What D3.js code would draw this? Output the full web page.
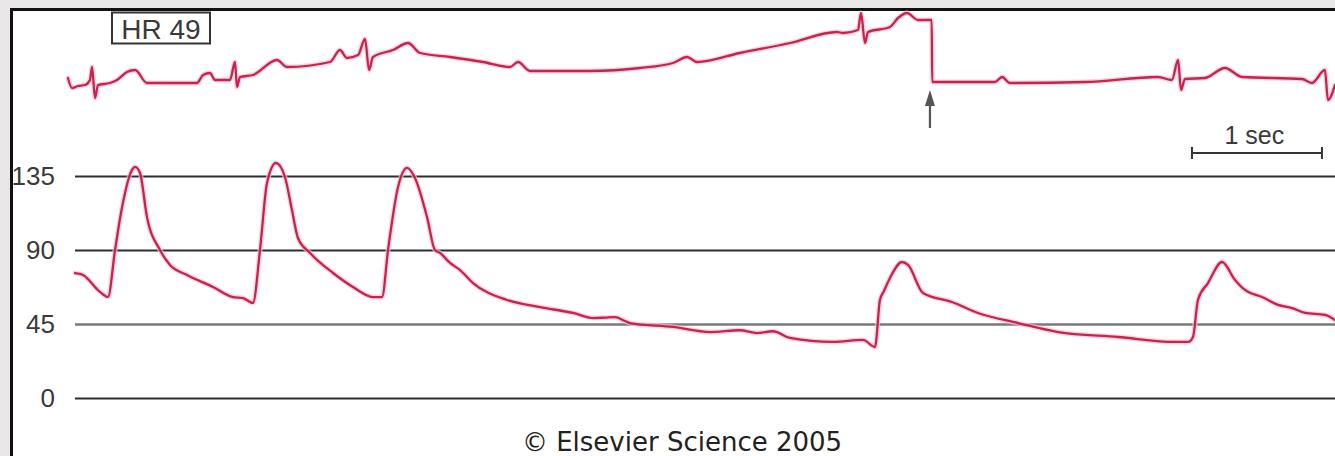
<!DOCTYPE html>
<html>
<head>
<meta charset="UTF-8">
<title>HR 49 - ECG and arterial pressure</title>
<script src="https://d3js.org/d3.v7.min.js"></script>
<style>
  body { margin: 0; background: #e9e7e7; }
  .trace { fill: none; stroke-linejoin: round; stroke-linecap: round; }
  .halo { stroke: #f6c3d1; stroke-width: 5; opacity: 0.7; }
  .core { stroke: #c9224d; stroke-width: 2.3; }
  .lbl { font-family: "Liberation Sans", Arial, sans-serif; fill: #3a3a3a; }
</style>
</head>
<body>
<svg id="chart" width="1335" height="456"></svg>
<script>
// time in seconds, pressure in mmHg
const pTime = [0, 0.062, 0.192, 0.254, 0.308, 0.362, 0.438, 0.462, 0.5, 0.554, 0.654, 0.731, 0.862,
  1.062, 1.215, 1.292, 1.369, 1.423, 1.477, 1.546, 1.615, 1.669, 1.715, 1.808, 1.985,
  2.138, 2.292, 2.362, 2.408, 2.485, 2.554, 2.615, 2.708, 2.769, 2.808, 2.885, 2.962,
  3.062, 3.323, 3.577, 3.831, 3.985, 4.077, 4.154, 4.231, 4.269, 4.6, 4.885, 5.115,
  5.246, 5.369, 5.5, 5.831, 6.062, 6.154, 6.192, 6.223, 6.269, 6.362, 6.408, 6.523,
  6.746, 6.946, 7.254, 7.562, 8.023, 8.462, 8.562, 8.6, 8.638, 8.715, 8.823, 8.923,
  9.0, 9.131, 9.254, 9.362, 9.462, 9.615, 9.692];
const pValue = [76, 74.8, 64.5, 61.5, 90, 116, 138.6, 140.5, 136.8, 110, 90, 80.9, 74.8,
  67.5, 61.4, 60.8, 57.8, 90, 130.7, 142.9, 134.4, 114.3, 97.3, 88.2, 76,
  67.5, 61.4, 61.4, 90, 128.3, 139.9, 133.8, 110, 90, 88.2, 82.1, 77.8,
  69.9, 59.6, 55.3, 51.7, 48.6, 48.9, 49.2, 46.8, 45.6, 43.2, 40.1, 41.2,
  39.5, 40.6, 36.5, 34.1, 35.3, 31, 59.6, 65.1, 73, 82.7, 80.9, 63.9,
  58.4, 51.7, 45.6, 40.1, 37.1, 34.1, 34.1, 37.1, 59.6, 69.9, 82.7, 71.8,
  65.7, 61.4, 56.6, 54.7, 51.7, 50.5, 47.4];

// ECG, arbitrary units
const eTime = [-0.054, -0.023, 0.023, 0.077, 0.115, 0.131, 0.154, 0.177, 0.269, 0.323, 0.4, 0.462,
  0.554, 0.938, 0.985, 1.038, 1.077, 1.192, 1.231, 1.246, 1.269, 1.369, 1.554, 1.631,
  1.962, 2.038, 2.092, 2.177, 2.231, 2.262, 2.292, 2.446, 2.562, 2.654, 2.885, 3.138,
  3.346, 3.408, 3.5, 3.962, 4.346, 4.6, 4.708, 4.785, 5.115, 5.5, 5.862, 5.908,
  6.023, 6.046, 6.077, 6.1, 6.269, 6.331, 6.4, 6.485, 6.590, 6.594, 7.077, 7.131,
  7.192, 7.769, 8.331, 8.438, 8.485, 8.508, 8.538, 8.692, 8.846, 8.977, 9.438, 9.515,
  9.615, 9.638, 9.692];
const eValue = [32, 22, 24, 25, 30, 43, 12, 25, 27, 30, 38, 40,
  27, 27, 35, 37, 30, 30, 48, 23, 33, 35, 50, 43,
  48, 60, 52, 55, 71, 40, 53, 60, 67, 57, 53, 48,
  43, 48, 39, 39, 42, 47, 53, 48, 57, 67, 78, 77,
  80, 97, 67, 78, 83, 92, 97, 90, 90, 28, 28, 33,
  27, 28, 33, 30, 50, 20, 31, 32, 42, 33, 31, 27,
  40, 10, 25];

const pTicks = [0, 45, 90, 135];

const svg = d3.select("#chart");
const W = 1335, H = 456;

// white panel with black frame on left/top
svg.append("rect").attr("x", 11).attr("y", 9).attr("width", W).attr("height", H)
  .attr("fill", "#fff");
svg.append("path").attr("d", "M11.5,456V9.5H1335")
  .attr("fill", "none").attr("stroke", "#111").attr("stroke-width", 3);

const x = d3.scaleLinear().domain([0, 10]).range([75, 1375]);
const yP = d3.scaleLinear().domain([0, 135]).range([398, 176]);
const yE = d3.scaleLinear().domain([0, 100]).range([110, 10]);

// pressure grid / axis
const axis = d3.axisLeft(yP).tickValues(pTicks)
  .tickSizeInner(-(W - 75)).tickSizeOuter(0).tickPadding(20);
const gA = svg.append("g").attr("transform", "translate(75,0)").call(axis);
gA.select(".domain").remove();
gA.selectAll(".tick line")
  .attr("stroke", d => d === 45 ? "#7a7a7a" : "#2e2e2e")
  .attr("stroke-width", d => d === 45 ? 2.6 : 2);
gA.selectAll(".tick text")
  .attr("class", "lbl").attr("font-size", 26).attr("fill", "#444");

// traces
const pData = pTime.map((t, i) => [t, pValue[i]]);
const eData = eTime.map((t, i) => [t, eValue[i]]);
const pLine = d3.line().x(d => x(d[0])).y(d => yP(d[1])).curve(d3.curveMonotoneX);
const eLine = d3.line().x(d => x(d[0])).y(d => yE(d[1])).curve(d3.curveMonotoneX);

["halo", "core"].forEach(c => {
  svg.append("path").datum(pData).attr("class", "trace " + c).attr("d", pLine);
  svg.append("path").datum(eData).attr("class", "trace " + c).attr("d", eLine);
});

// HR box
svg.append("rect").attr("x", 112).attr("y", 12.5).attr("width", 98).attr("height", 31)
  .attr("fill", "#fff").attr("stroke", "#333").attr("stroke-width", 2);
svg.append("text").attr("class", "lbl").attr("x", 161).attr("y", 39)
  .attr("text-anchor", "middle").attr("font-size", 28).text("HR 49");

// arrow marking the pause
const ax = x(6.592) - 2;
svg.append("line").attr("x1", ax).attr("x2", ax).attr("y1", 128).attr("y2", 100)
  .attr("stroke", "#555").attr("stroke-width", 2.2);
svg.append("path").attr("d", `M${ax - 5},106L${ax},90L${ax + 5},106Z`).attr("fill", "#555");

// 1 sec scale bar
const sb = 8.592;
const g1 = svg.append("g").attr("stroke", "#333").attr("stroke-width", 2);
g1.append("line").attr("x1", x(sb)).attr("x2", x(sb + 1)).attr("y1", 153).attr("y2", 153);
g1.append("line").attr("x1", x(sb)).attr("x2", x(sb)).attr("y1", 147).attr("y2", 159);
g1.append("line").attr("x1", x(sb + 1)).attr("x2", x(sb + 1)).attr("y1", 147).attr("y2", 159);
svg.append("text").attr("class", "lbl").attr("x", x(sb + 0.48)).attr("y", 144)
  .attr("text-anchor", "middle").attr("font-size", 25).text("1 sec");

// credit
svg.append("text").attr("x", 682).attr("y", 451).attr("text-anchor", "middle")
  .attr("font-family", "DejaVu Sans, Verdana, sans-serif").attr("font-size", 26)
  .attr("fill", "#222").text("© Elsevier Science 2005");
</script>
</body>
</html>
